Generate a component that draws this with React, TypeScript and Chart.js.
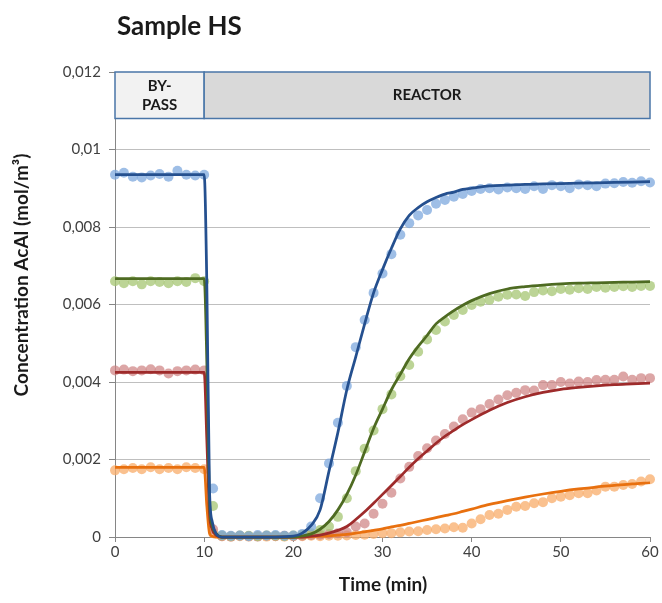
import React, { useEffect, useRef } from "react";
import { Chart, registerables } from "chart.js";

Chart.register(...registerables);

const chartTitle = "Sample HS";
const xAxisTitle = "Time (min)";
const yAxisTitle = "Concentration AcAl (mol/m³)";

const sampleTimes = [
  0, 1, 2, 3, 4, 5, 6, 7, 8, 9, 10, 11, 12, 13, 14, 15, 16, 17, 18, 19, 20,
  21, 22, 23, 24, 25, 26, 27, 28, 29, 30, 31, 32, 33, 34, 35, 36, 37, 38, 39, 40,
  41, 42, 43, 44, 45, 46, 47, 48, 49, 50, 51, 52, 53, 54, 55, 56, 57, 58, 59, 60,
];

const blueMeasured = [
  0.00935, 0.0094, 0.0093, 0.00928, 0.00933, 0.00937, 0.0093, 0.00945, 0.00935, 0.00933, 0.00935,
  0.00125, 0.00005, 0.00003, 0.00004, 0.00002, 0.00005, 0.00004, 0.00005, 0.00003, 0.00004,
  0.00008, 0.00027, 0.001, 0.0019, 0.00295, 0.0039, 0.0049, 0.0056, 0.0063, 0.0068,
  0.0073, 0.0078, 0.0081, 0.0083, 0.00844, 0.0086, 0.0087, 0.00878, 0.00885, 0.00893,
  0.00898, 0.009, 0.00897, 0.00902, 0.009, 0.00898, 0.00905, 0.00898, 0.00908, 0.00905,
  0.009, 0.0091, 0.00908, 0.00905, 0.00912, 0.00913, 0.00916, 0.00914, 0.00918, 0.00915,
];

const greenMeasured = [
  0.0066, 0.00655, 0.0066, 0.00652, 0.0066, 0.00658, 0.00655, 0.0066, 0.00658, 0.00668, 0.0066,
  0.0008, 0.00004, 0.00002, 0.00004, 0.00003, 0.00002, 0.00004, 0.00003, 0.00002, 0.00004,
  0.00006, 0.0001, 0.00018, 0.00027, 0.00052, 0.001, 0.0017, 0.00228, 0.00275, 0.0033,
  0.00368, 0.00415, 0.00444, 0.00478, 0.0051, 0.00534, 0.00556, 0.00573, 0.00586, 0.00599,
  0.00607, 0.00612, 0.0062, 0.00625, 0.00626, 0.00622, 0.00632, 0.00636, 0.00634, 0.0064,
  0.00638, 0.00642, 0.0064, 0.00645, 0.00643, 0.00645, 0.00647, 0.00645, 0.00648, 0.00648,
];

const redMeasured = [
  0.0043, 0.00432, 0.00428, 0.0043, 0.00433, 0.0043, 0.00422, 0.00428, 0.0043, 0.00432, 0.0043,
  0.0002, 0.00002, 0.00001, 0.00003, 0.00002, 0.00001, 0.00003, 0.00002, 0.00003, 0.00002,
  0.00003, 0.00005, 0.00006, 0.00008, 0.0001, 0.00012, 0.00027, 0.00035, 0.0006, 0.00086,
  0.00114, 0.00151, 0.00181, 0.00209, 0.00229, 0.00249, 0.00266, 0.00285, 0.00304, 0.00321,
  0.0033, 0.00343, 0.00355, 0.00366, 0.00372, 0.00379, 0.00378, 0.00392, 0.00392, 0.004,
  0.00396, 0.00401, 0.004, 0.00405, 0.00406, 0.00406, 0.00414, 0.00406, 0.0041, 0.0041,
];

const orangeMeasured = [
  0.00172, 0.00175, 0.00178, 0.00175, 0.0018, 0.00175, 0.00178, 0.00175, 0.0018, 0.00178, 0.00175,
  0.0001, 0.00002, 0.00001, 0.00002, 0.00001, 0.00002, 0.00001, 0.00002, 0.00001, 0.00002,
  0.00002, 0.00003, 0.00002, 0.00003, 0.00003, 0.00004, 0.00005, 0.00006, 0.00008, 0.0001,
  0.0001, 0.00012, 0.00014, 0.00015, 0.00018, 0.0002, 0.00022, 0.00025, 0.00024, 0.00035,
  0.00046, 0.00057, 0.0006, 0.0007, 0.00078, 0.0008, 0.00087, 0.0009, 0.001, 0.00104,
  0.00108, 0.00113, 0.00113, 0.0012, 0.0013, 0.0013, 0.00134, 0.00137, 0.00143, 0.00149,
];

const modelTimes = [
  0, 5, 10, 10.3, 10.6, 10.9, 11.3, 12, 15, 18, 20,
  21, 22, 23, 24, 25, 26, 27, 28, 29, 30, 31, 32, 33, 34, 35, 36, 37, 38, 39, 40,
  42, 44, 46, 48, 50, 52, 54, 56, 58, 60,
];

const blueModel = [
  0.00935, 0.00935, 0.00935, 0.0065, 0.0012, 0.0004, 0.0001, 0, 0, 0, 0.00002,
  0.0001, 0.0003, 0.0007, 0.0017, 0.0027, 0.0038, 0.00465, 0.0055, 0.0063, 0.0069,
  0.00745, 0.00795, 0.0083, 0.0085, 0.00865, 0.00876, 0.00885, 0.0089, 0.00897, 0.009,
  0.00906, 0.00908, 0.0091, 0.00911, 0.00912, 0.00913, 0.00914, 0.00915, 0.00916, 0.00917,
];

const greenModel = [
  0.00667, 0.00667, 0.00667, 0.0045, 0.0009, 0.0003, 0.0001, 0, 0, 0, 0,
  0.00003, 0.00008, 0.0002, 0.0004, 0.0007, 0.0011, 0.0016, 0.0022, 0.0028, 0.0033,
  0.0038, 0.0042, 0.0046, 0.00492, 0.0052, 0.0055, 0.00568, 0.00584, 0.00598, 0.0061,
  0.00628, 0.0064, 0.00646, 0.0065, 0.00653, 0.00655, 0.00656, 0.00657, 0.00658, 0.00659,
];

const redModel = [
  0.00425, 0.00425, 0.00425, 0.0025, 0.0006, 0.0002, 0.00005, 0, 0, 0, 0,
  0, 0.00002, 0.00005, 0.0001, 0.00017, 0.00027, 0.00045, 0.00065, 0.00087, 0.0011,
  0.00133, 0.00156, 0.0018, 0.00202, 0.00222, 0.00242, 0.0026, 0.00275, 0.0029, 0.00303,
  0.00327, 0.00347, 0.00362, 0.00373, 0.00381, 0.00386, 0.0039, 0.00393, 0.00395, 0.00397,
];

const orangeModel = [
  0.0018, 0.0018, 0.0018, 0.0008, 0.0001, 0.00002, 0, 0, 0, 0, 0,
  0, 0.00001, 0.00002, 0.00003, 0.00005, 0.00007, 0.0001, 0.00013, 0.00017, 0.00021,
  0.00026, 0.0003, 0.00035, 0.0004, 0.00045, 0.0005, 0.00055, 0.0006, 0.00066, 0.00072,
  0.00084, 0.00094, 0.00103, 0.00111, 0.00118, 0.00124, 0.00129, 0.00133, 0.00137, 0.0014,
];

const phaseLabels = [["BY-", "PASS"], ["REACTOR"]];
const phaseStarts = [0, 10];
const phaseEnds = [10, 60];
const phaseTop = 0.012;
const phaseBottom = 0.0108;
const phaseFills = ["#f2f2f2", "#d9d9d9"];

const FONT = "Lato, 'Open Sans', sans-serif";

const toPoints = (xs: number[], ys: number[]) => xs.map((x, i) => ({ x, y: ys[i] }));

const overlayPlugin = {
  id: "overlay",
  beforeDatasetsDraw(chart: any) {
    const { ctx, scales } = chart;
    const xs = scales.x;
    const ys = scales.y;
    ctx.save();
    phaseLabels.forEach((lines, i) => {
      const x0 = xs.getPixelForValue(phaseStarts[i]);
      const x1 = xs.getPixelForValue(phaseEnds[i]);
      const y0 = ys.getPixelForValue(phaseTop);
      const y1 = ys.getPixelForValue(phaseBottom);
      ctx.fillStyle = phaseFills[i];
      ctx.fillRect(x0, y0, x1 - x0, y1 - y0);
      ctx.strokeStyle = "#4a76a8";
      ctx.lineWidth = 1.5;
      ctx.strokeRect(x0, y0, x1 - x0, y1 - y0);
      ctx.fillStyle = "#1a1a1a";
      ctx.font = `bold 15px ${FONT}`;
      ctx.textAlign = "center";
      ctx.textBaseline = "middle";
      const cx = (x0 + x1) / 2;
      const cy = (y0 + y1) / 2;
      const lh = 19;
      lines.forEach((t, j) => {
        ctx.fillText(t, cx, cy + (j - (lines.length - 1) / 2) * lh);
      });
    });
    ctx.restore();
  },
  afterDraw(chart: any) {
    const { ctx } = chart;
    ctx.save();
    ctx.fillStyle = "#1a1a1a";
    ctx.font = `bold 26px ${FONT}`;
    ctx.textAlign = "left";
    ctx.textBaseline = "alphabetic";
    ctx.fillText(chartTitle, 117, 35);

    ctx.font = `bold 19px ${FONT}`;
    ctx.textAlign = "center";
    ctx.textBaseline = "middle";
    ctx.fillText(xAxisTitle, 383, 585);

    ctx.translate(22, 275);
    ctx.rotate(-Math.PI / 2);
    ctx.fillText(yAxisTitle, 0, 0);
    ctx.restore();
  },
};

export default function App() {
  const canvasRef = useRef<HTMLCanvasElement | null>(null);

  useEffect(() => {
    const canvas = canvasRef.current;
    if (!canvas) return;
    const lineDs = (data: number[], color: string) => ({
      type: "line",
      data: toPoints(modelTimes, data),
      borderColor: color,
      backgroundColor: color,
      borderWidth: 2.75,
      pointRadius: 0,
      fill: false,
      cubicInterpolationMode: "monotone",
      clip: false,
      order: 1,
    });
    const dotDs = (data: number[], color: string) => ({
      type: "line",
      data: toPoints(sampleTimes, data),
      showLine: false,
      pointRadius: 5,
      pointBorderWidth: 0,
      pointBackgroundColor: color,
      borderColor: color,
      backgroundColor: color,
      clip: false,
      order: 2,
    });
    const chart = new Chart(canvas, {
      type: "line",
      data: {
        datasets: [
          lineDs(blueModel, "#25508f"),
          lineDs(greenModel, "#4e6b22"),
          lineDs(redModel, "#9e2b2b"),
          lineDs(orangeModel, "#e8700f"),
          dotDs(blueMeasured, "rgba(125,168,222,0.75)"),
          dotDs(greenMeasured, "rgba(165,198,115,0.75)"),
          dotDs(redMeasured, "rgba(205,128,128,0.7)"),
          dotDs(orangeMeasured, "rgba(248,172,105,0.75)"),
        ] as any,
      },
      options: {
        responsive: false,
        animation: false,
        events: [],
        layout: { padding: { top: 72, right: 12, left: 0, bottom: 0 } },
        plugins: {
          legend: { display: false },
          tooltip: { enabled: false },
          title: { display: false },
        },
        scales: {
          x: {
            type: "linear",
            min: 0,
            max: 60,
            afterFit: (s: any) => {
              s.height = 66;
            },
            ticks: {
              stepSize: 10,
              color: "#404040",
              padding: 1,
              font: { family: FONT, size: 15 },
            },
            grid: {
              display: true,
              drawOnChartArea: false,
              drawTicks: true,
              tickLength: 5,
              color: "#868686",
            },
            border: { display: true, color: "#868686" },
          },
          y: {
            type: "linear",
            min: 0,
            max: 0.012,
            afterFit: (s: any) => {
              s.width = 115;
            },
            ticks: {
              stepSize: 0.002,
              color: "#404040",
              padding: 8,
              font: { family: FONT, size: 15 },
              callback: (v: any) => String(Number(Number(v).toFixed(4))).replace(".", ","),
            },
            grid: {
              display: true,
              color: "#bfbfbf",
              tickLength: 6,
              tickColor: "#868686",
            },
            border: { display: true, color: "#868686" },
          },
        },
      } as any,
      plugins: [overlayPlugin],
    });
    return () => chart.destroy();
  }, []);

  return (
    <div style={{ position: "fixed", left: 0, top: 0, width: 662, height: 603, background: "#fff" }}>
      <canvas ref={canvasRef} width={662} height={603} style={{ display: "block" }} />
    </div>
  );
}
